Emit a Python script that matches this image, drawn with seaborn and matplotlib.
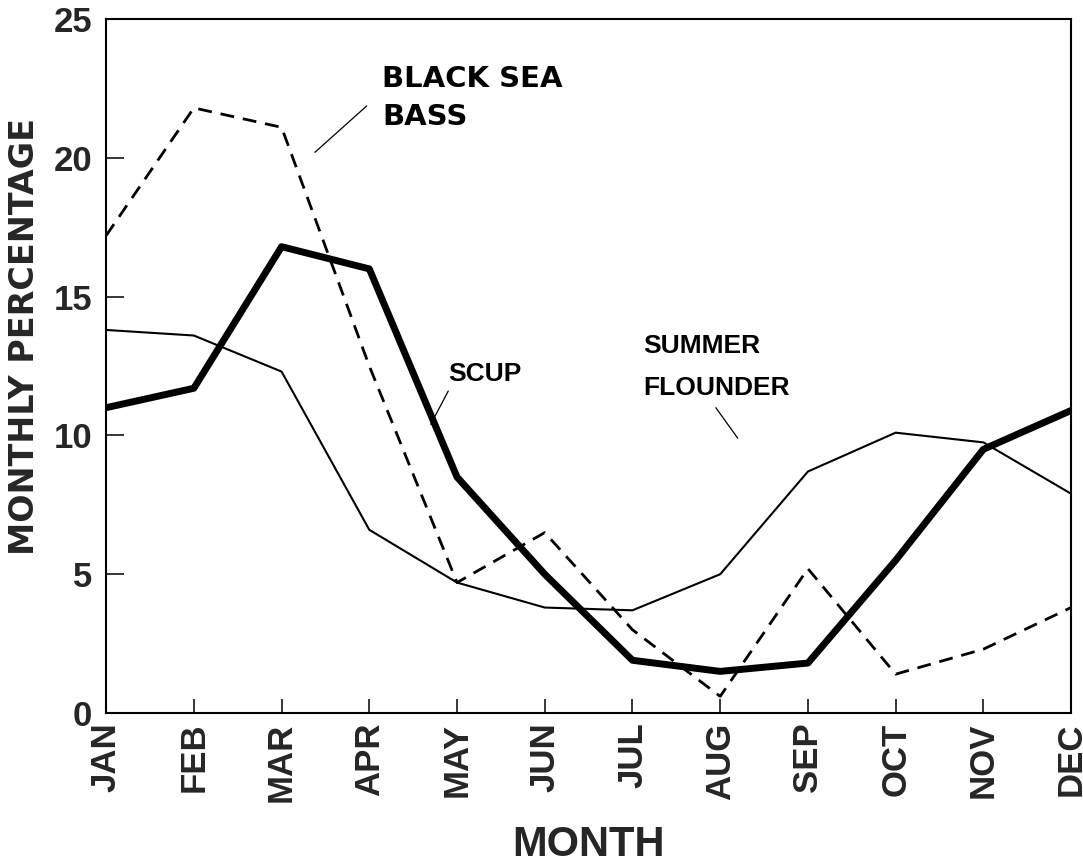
import matplotlib
matplotlib.use("Agg")
import matplotlib.pyplot as plt
import seaborn as sns
import pandas as pd

months = ["JAN", "FEB", "MAR", "APR", "MAY", "JUN", "JUL", "AUG", "SEP", "OCT", "NOV", "DEC"]
black_sea_bass = [17.2, 21.8, 21.1, 12.5, 4.7, 6.5, 3.0, 0.6, 5.2, 1.4, 2.3, 3.8]
scup = [11.0, 11.7, 16.8, 16.0, 8.5, 5.0, 1.9, 1.5, 1.8, 5.5, 9.5, 10.9]
summer_flounder = [13.8, 13.6, 12.3, 6.6, 4.7, 3.8, 3.7, 5.0, 8.7, 10.1, 9.75, 7.9]
y_ticks = [0, 5, 10, 15, 20, 25]

sns.set_theme(style="white")
plt.rcParams["font.family"] = ["Liberation Sans", "DejaVu Sans"]
plt.rcParams["font.weight"] = "bold"

df = pd.DataFrame({
    "m": list(range(len(months))),
    "bsb": black_sea_bass,
    "scup": scup,
    "sf": summer_flounder,
})

fig = plt.figure(figsize=(10.83, 8.67), dpi=100)
ax = fig.add_axes([0.098, 0.1776, 0.891, 0.8004])

sns.lineplot(data=df, x="m", y="bsb", ax=ax, color="black", lw=2.0,
             dashes=False, linestyle=(0, (5, 3.2)))
sns.lineplot(data=df, x="m", y="scup", ax=ax, color="black", lw=5.0)
sns.lineplot(data=df, x="m", y="sf", ax=ax, color="black", lw=1.5)

ax.set_xlim(0, 11)
ax.set_ylim(0, 25)
ax.set_xticks(range(len(months)))
ax.set_xticklabels(months, rotation=90, fontsize=25, fontweight="bold")
ax.set_yticks(y_ticks)
ax.set_yticklabels([str(v) for v in y_ticks], fontsize=25, fontweight="bold")
ax.tick_params(axis="x", direction="in", length=10, width=1.3, pad=7, bottom=True)
ax.tick_params(axis="y", direction="in", length=13, width=1.3, pad=10, left=True)
for s in ax.spines.values():
    s.set_color("black")
    s.set_linewidth(1.5)
    s.set_visible(True)

ax.set_xlabel("MONTH", fontsize=30, fontweight="bold")
ax.xaxis.set_label_coords(0.5, -0.162)
ax.set_ylabel("MONTHLY PERCENTAGE", fontsize=24, fontweight="bold",
              family=["DejaVu Sans"])
ax.yaxis.set_label_coords(-0.068, 0.542)

wide = dict(fontsize=21, fontweight="bold", color="black", ha="left",
            va="baseline", family=["DejaVu Sans"])
narrow = dict(fontsize=19, fontweight="bold", color="black", ha="left",
              va="baseline", family=["Liberation Sans"])
ax.text(3.15, 22.55, "BLACK SEA", **wide)
ax.text(3.15, 21.18, "BASS", **wide)
ax.plot([2.97, 2.38], [21.87, 20.2], color="black", lw=0.9)
ax.text(3.9, 11.96, "SCUP", **narrow)
ax.plot([3.9, 3.7], [11.6, 10.4], color="black", lw=0.9)
ax.text(6.12, 12.97, "SUMMER", **narrow)
ax.text(6.12, 11.46, "FLOUNDER", **narrow)
ax.plot([6.95, 7.2], [11.0, 9.9], color="black", lw=0.9)

fig.savefig("out.png", dpi=100, facecolor="white")
